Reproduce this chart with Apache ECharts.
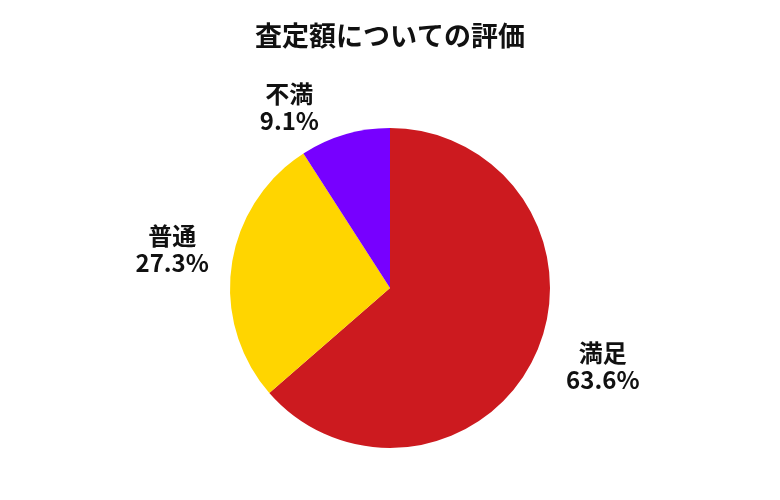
<!DOCTYPE html>
<html><head><meta charset="utf-8">
<script src="https://cdn.jsdelivr.net/npm/echarts@6/dist/echarts.min.js"></script>
<style>html,body{margin:0;padding:0;background:#fff}#c{width:780px;height:500px}</style>
</head><body><div id="c"></div>
<script>
const titleText = '査定額についての評価';
const categories = ['満足', '普通', '不満'];
const percents = [63.6, 27.3, 9.1];
const colors = ['#CC1A1F', '#FFD500', '#7700FF'];

// small label nudges (label placement only)
const labelNudge = [[0, 0], [10, -12], [-13, 0]];

const chart = echarts.init(document.getElementById('c'));
chart.setOption({
  backgroundColor: '#fff',
  title: {
    text: titleText, left: 'center', top: 17,
    textStyle: { fontFamily: 'Noto Sans CJK JP', fontWeight: 'bold', fontSize: 27, color: '#111' }
  },
  series: [{
    type: 'pie',
    center: [390, 288],
    radius: 160,
    startAngle: 90,
    clockwise: true,
    animation: false,
    data: categories.map((c, i) => ({ name: c, value: percents[i], itemStyle: { color: colors[i] } })),
    label: {
      show: true, position: 'outside',
      formatter: p => p.name + '\n' + p.value.toFixed(1) + '%',
      fontFamily: 'Noto Sans CJK JP', fontWeight: 'bold', fontSize: 24, color: '#111', lineHeight: 27
    },
    labelLine: { show: false, length: 28, length2: 0 },
    labelLayout: function (params) {
      const r = params.labelRect;
      const n = labelNudge[params.dataIndex] || [0, 0];
      return { x: r.x + r.width / 2 + n[0], y: r.y + r.height / 2 + n[1], align: 'center', verticalAlign: 'middle' };
    }
  }]
});
</script></body></html>
